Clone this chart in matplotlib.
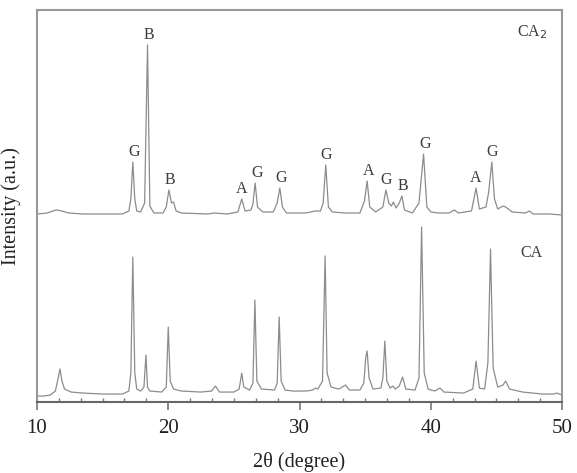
import numpy as np
import matplotlib
matplotlib.use("Agg")
import matplotlib.pyplot as plt
from matplotlib.ticker import MultipleLocator

plt.rcParams['font.family'] = ['Liberation Serif', 'DejaVu Serif']

# CA pattern (2theta, intensity a.u.)
ca_x = [10.0, 10.5, 11.0, 11.4, 11.6, 11.75, 11.9, 12.1, 12.6, 13.5, 15.0, 16.5,
        17.0, 17.15, 17.3, 17.45, 17.6, 17.9, 18.15, 18.3, 18.42, 18.6, 19.5,
        19.85, 20.0, 20.15, 20.4, 21.0, 22.5, 23.3, 23.6, 23.9, 25.0, 25.4, 25.6,
        25.75, 26.2, 26.45, 26.6, 26.75, 27.1, 28.1, 28.3, 28.45, 28.6, 28.9,
        29.5, 30.5, 31.0, 31.2, 31.4, 31.75, 31.95, 32.1, 32.4, 33.0, 33.5, 33.8,
        34.6, 34.9, 35.05, 35.15, 35.3, 35.6, 36.2, 36.35, 36.5, 36.65, 36.9,
        37.1, 37.3, 37.6, 37.85, 38.1, 38.8, 39.1, 39.3, 39.5, 39.8, 40.3, 40.7,
        41.0, 42.5, 43.2, 43.45, 43.7, 44.1, 44.35, 44.55, 44.75, 45.1, 45.5,
        45.7, 46.0, 47.0, 48.5, 49.4, 49.6, 50.0]
ca_y = [6, 6, 7, 11, 23, 33, 21, 13, 10, 9, 8, 8,
        11, 29, 145, 29, 13, 11, 15, 47, 15, 11, 10,
        15, 75, 21, 13, 11, 10, 11, 16, 10, 10, 13, 29,
        15, 12, 19, 102, 21, 13, 12, 19, 85, 21, 12,
        11, 11, 12, 14, 13, 21, 146, 29, 15, 13, 17, 12,
        12, 19, 45, 51, 24, 13, 14, 24, 61, 21, 14,
        16, 13, 16, 25, 13, 12, 24, 175, 29, 13, 11, 14,
        10, 9, 13, 41, 14, 13, 39, 153, 34, 15, 17,
        21, 13, 10, 8, 8, 9, 7]

# CA2 pattern (2theta, intensity a.u.)
ca2_x = [10.0, 10.8, 11.2, 11.5, 11.9, 12.4, 13.5, 15.0, 16.5, 17.0, 17.15, 17.3,
         17.45, 17.6, 17.9, 18.2, 18.42, 18.6, 18.9, 19.6, 19.85, 20.05, 20.25,
         20.4, 20.6, 21.0, 23.0, 23.5, 24.5, 25.3, 25.6, 25.85, 26.3, 26.45,
         26.62, 26.8, 27.2, 28.0, 28.3, 28.5, 28.7, 29.0, 30.5, 31.2, 31.6, 31.8,
         32.0, 32.2, 32.5, 33.5, 34.6, 34.95, 35.15, 35.35, 35.8, 36.35, 36.58,
         36.8, 37.0, 37.15, 37.35, 37.6, 37.8, 38.0, 38.6, 39.1, 39.45, 39.7,
         40.0, 40.6, 41.4, 41.8, 42.1, 43.1, 43.45, 43.7, 44.2, 44.4, 44.65,
         44.85, 45.1, 45.5, 45.7, 46.2, 47.2, 47.5, 47.8, 49.0, 50.0]
ca2_y = [7, 8, 10, 11, 10, 8, 7, 7, 7, 10, 22, 59,
         22, 10, 9, 18, 176, 15, 8, 8, 14, 31, 18,
         19, 10, 8, 7, 8, 7, 9, 22, 10, 11, 17,
         38, 14, 9, 9, 18, 33, 14, 8, 8, 10, 10, 18,
         56, 14, 9, 8, 8, 20, 40, 14, 9, 14, 31,
         18, 15, 19, 13, 18, 25, 11, 8, 18, 67, 14,
         9, 8, 8, 11, 8, 10, 33, 12, 14, 28, 59,
         22, 12, 15, 14, 9, 8, 10, 7, 7, 6]

# phase marks on CA2 pattern
mark_x = [17.4, 18.5, 20.1, 25.6, 26.75, 28.6, 32.0, 35.3, 36.6, 37.85, 39.55, 43.45, 44.65]
mark_txt = ['G', 'B', 'B', 'A', 'G', 'G', 'G', 'A', 'G', 'B', 'G', 'A', 'G']

offset = 181
line_col = '#8c8c8c'
txt_col = '#3c3c3c'

fig = plt.figure(figsize=(5.77, 4.73), dpi=100)
ax = fig.add_axes([0.0641, 0.150, 0.910, 0.829])

ax.plot(ca_x, ca_y, color=line_col, lw=0.9)
ca2_shift = np.array(ca2_y) + offset
ax.plot(ca2_x, ca2_shift, color=line_col, lw=0.9)

# letters above peaks
xa = np.array(ca2_x)
for x, t in zip(mark_x, mark_txt):
    top = ca2_shift[(xa > x - 0.35) & (xa < x + 0.35)].max()
    ax.annotate(t, (x, top), xytext=(0, 1.5), textcoords='offset points',
                ha='center', va='bottom', fontsize=11.5, color=txt_col)

ax.text(47.7, 370, 'CA$_2$', ha='center', va='center', fontsize=11.5, color=txt_col)
ax.text(47.7, 149, 'CA', ha='center', va='center', fontsize=11.5, color=txt_col)

ax.set_xlim(10, 50)
ax.set_ylim(0, 392)
ax.set_yticks([])
ax.xaxis.set_major_locator(MultipleLocator(10))
ax.xaxis.set_minor_locator(MultipleLocator(10 / 6))
ax.tick_params(axis='x', which='major', direction='out', length=6, width=1.2,
               color='#777777', labelsize=15, pad=6, labelcolor='#222222')
ax.tick_params(axis='x', which='minor', direction='in', length=3, width=1.0,
               color='#777777')
for s in ax.spines.values():
    s.set_color('#999999')
    s.set_linewidth(1.5)
ax.spines['bottom'].set_color('#666666')

ax.set_xlabel('2θ (degree)', fontsize=14.5, color='#222222')
ax.xaxis.set_label_coords(0.5, -0.128)
ax.set_ylabel('Intensity (a.u.)', fontsize=14.5, color='#222222')
ax.yaxis.set_label_coords(-0.03, 0.5)

fig.savefig('out.png', dpi=100)
